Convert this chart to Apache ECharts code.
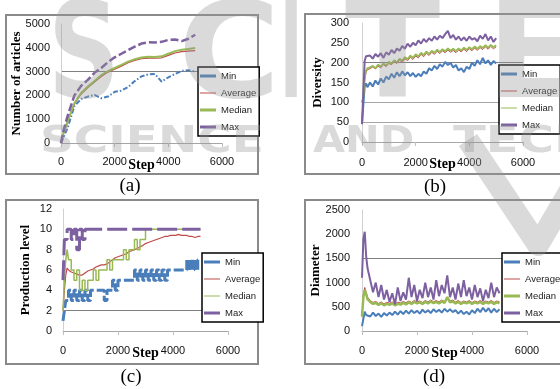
<!DOCTYPE html>
<html>
<head>
<meta charset="utf-8">
<script src="https://cdn.jsdelivr.net/npm/echarts@6.0.0/dist/echarts.min.js"></script>
<style>
html, body { margin: 0; padding: 0; background: #fff; }
#chart { width: 560px; height: 389px; }
</style>
</head>
<body>
<div id="chart"></div>
<script>
// (a) number of articles
var stepsA = [0, 100, 250, 500, 750, 1000, 1250, 1500, 1750, 2000, 2250, 2500, 2750, 3000, 3250, 3500, 3750, 4000, 4250, 4500, 4750, 5000];
var articlesMin = [0, 250, 650, 1550, 1850, 1950, 2020, 1880, 1950, 2150, 2200, 2350, 2600, 2800, 2880, 2900, 2580, 2760, 2900, 3030, 3060, 3000];
var articlesAvg = [0, 430, 900, 1640, 2060, 2330, 2560, 2790, 2980, 3100, 3230, 3370, 3470, 3540, 3570, 3560, 3580, 3680, 3780, 3840, 3860, 3880];
var articlesMed = [0, 450, 920, 1680, 2100, 2370, 2600, 2850, 3020, 3150, 3280, 3420, 3520, 3590, 3620, 3610, 3640, 3750, 3860, 3920, 3950, 3990];
var articlesMax = [0, 550, 1150, 2000, 2400, 2650, 2950, 3150, 3400, 3600, 3750, 3900, 4050, 4180, 4230, 4220, 4250, 4330, 4350, 4280, 4380, 4550];

// shared step grid for (b), (c), (d)
var steps = [0, 50, 100, 150, 200,
  300, 400, 500, 600, 700, 800, 900, 1000,
  1100, 1200, 1300, 1400, 1500, 1600, 1700, 1800, 1900, 2000,
  2100, 2200, 2300, 2400, 2500, 2600, 2700, 2800, 2900, 3000,
  3100, 3200, 3300, 3400, 3500, 3600, 3700, 3800, 3900, 4000,
  4100, 4200, 4300, 4400, 4500, 4600, 4700, 4800, 4900, 5000];

// (b) diversity
var diversityMin = [45, 95, 140, 148, 138,
  150, 140, 155, 145, 160, 150, 165, 158,
  172, 162, 176, 166, 178, 168, 176, 166, 174, 164,
  172, 166, 178, 172, 186, 180, 192, 184, 196, 190,
  202, 194, 200, 188, 194, 180, 186, 176, 190, 184,
  200, 192, 206, 196, 212, 198, 206, 194, 204, 198];
var diversityAvg = [100, 112, 155, 176, 182,
  185, 189, 184, 191, 187, 195, 190, 198,
  195, 202, 198, 206, 201, 210, 205, 214, 208, 217,
  212, 221, 215, 224, 218, 226, 221, 229, 223, 230,
  225, 232, 226, 231, 225, 232, 227, 234, 228, 235,
  230, 237, 231, 238, 233, 240, 234, 241, 235, 240];
var diversityMed = [100, 115, 160, 180, 186,
  188, 192, 186, 195, 190, 198, 193, 202,
  198, 206, 201, 210, 205, 214, 209, 218, 212, 221,
  216, 225, 219, 228, 222, 230, 225, 233, 227, 234,
  229, 236, 230, 235, 229, 236, 231, 238, 232, 239,
  234, 241, 235, 242, 237, 244, 238, 245, 239, 244];
var diversityMax = [45, 130, 205, 216, 212,
  218, 210, 222, 215, 224, 212, 226, 220,
  232, 224, 236, 230, 242, 235, 248, 240, 250, 244,
  256, 248, 260, 252, 262, 255, 266, 258, 268, 262,
  272, 280, 262, 270, 258, 266, 256, 264, 255, 266,
  258, 262, 254, 268, 260, 272, 256, 266, 252, 262];

// (c) production level
var productionMin = [1, 2, 3, 3, 4,
  3, 4, 3, 4, 3, 4, 3, 4,
  4, 4, 4, 4, 3, 4, 4, 5, 4, 5,
  5, 5, 5, 5, 5, 6, 5, 6, 5, 6,
  5, 6, 5, 6, 5, 6, 5, 6, 6, 6,
  6, 6, 6, 6, 7, 6, 7, 6, 7, 7];
var productionAvg = [2, 4, 5.5, 6.2, 6.0,
  5.8, 5.7, 5.6, 5.5, 5.5, 5.7, 5.9, 6.0,
  6.1, 6.3, 6.4, 6.5, 6.5, 6.6, 6.8, 7.0, 7.2, 7.3,
  7.4, 7.5, 7.6, 7.8, 7.9, 8.0, 8.1, 8.3, 8.4, 8.6,
  8.7, 8.8, 8.9, 9.0, 9.1, 9.2, 9.3, 9.3, 9.4, 9.4,
  9.4, 9.5, 9.4, 9.4, 9.4, 9.3, 9.3, 9.2, 9.3, 9.3];
var productionMed = [2, 5, 7, 8, 7,
  6, 5, 6, 4, 5, 4, 5, 5,
  6, 5, 6, 6, 6, 7, 6, 7, 7, 7,
  7, 8, 7, 8, 8, 9, 8, 9, 9, 10,
  10, 10, 10, 10, 10, 10, 10, 10, 10, 10,
  10, 10, 10, 10, 10, 10, 10, 10, 10, 10];
var productionMax = [5, 9, 9, 10, 10,
  9, 10, 8, 10, 9, 10, 10, 10,
  10, 10, 10, 10, 10, 10, 10, 10, 10, 10,
  10, 10, 10, 10, 10, 10, 10, 10, 10, 10,
  10, 10, 10, 10, 10, 10, 10, 10, 10, 10,
  10, 10, 10, 10, 10, 10, 10, 10, 10, 10];

// (d) diameter
var diameterMin = [100, 250, 400, 330, 350,
  300, 380, 310, 360, 290, 370, 320, 380,
  330, 400, 340, 410, 350, 420, 360, 430, 370, 420,
  360, 440, 380, 430, 370, 450, 390, 440, 380, 460,
  400, 450, 390, 430, 360, 420, 350, 400, 340, 430,
  370, 460, 390, 480, 400, 470, 380, 460, 390, 450];
var diameterAvg = [300, 750, 900, 800, 700,
  630, 590, 610, 570, 600, 560, 590, 575,
  600, 565, 595, 580, 610, 585, 620, 590, 630, 600,
  620, 590, 630, 600, 640, 605, 630, 600, 640, 610,
  680, 620, 640, 600, 630, 590, 620, 600, 630, 590,
  620, 600, 630, 590, 620, 600, 630, 590, 620, 600];
var diameterMed = [300, 700, 850, 760, 660,
  600, 560, 580, 540, 570, 530, 560, 540,
  570, 530, 560, 545, 580, 550, 590, 560, 600, 570,
  590, 560, 600, 570, 610, 575, 600, 570, 610, 580,
  700, 590, 610, 570, 600, 560, 590, 570, 600, 560,
  590, 570, 600, 560, 590, 570, 600, 560, 590, 570];
var diameterMax = [1100, 1900, 2050, 1550, 1300,
  1050, 800, 1000, 700, 950, 650, 850, 600,
  780, 550, 900, 620, 800, 650, 1100, 700, 950, 620,
  850, 680, 1000, 700, 900, 650, 1050, 720, 950, 780,
  1150, 700, 900, 650, 980, 700, 1050, 720, 900, 650,
  950, 700, 880, 620, 850, 680, 1000, 700, 900, 780];

var legendNames = ["Min", "Average", "Median", "Max"];
var captions = ["(a)", "(b)", "(c)", "(d)"];

var C_MIN = "#4a7ebb", C_AVG = "#be4b48", C_MED = "#98b954", C_MAX = "#7d60a0";
var T = "rgba(0,0,0,0)";
// zero-width suffix keeps each panel's legend tied to its own series
var tags = ["", "\u200b", "\u200b\u200b", "\u200b\u200b\u200b"];
var THICK = "path://M0,0L16,0L16,3L0,3Z";
var THIN = "path://M0,0L16,0L16,1L0,1Z";

var myChart = echarts.init(document.getElementById("chart"));

function line(name, gi, xs, ys, color, width, dash, step) {
  return {
    name: name + tags[gi],
    type: "line",
    xAxisIndex: gi,
    yAxisIndex: gi,
    data: xs.map(function (s, i) { return [s, ys[i]]; }),
    symbol: "none",
    step: step || false,
    silent: true,
    lineStyle: { color: color, width: width, type: dash || "solid" },
    itemStyle: { color: color }
  };
}

function xAx(gi, margin) {
  return {
    type: "value", gridIndex: gi, min: 0, max: 6000, interval: 2000,
    name: "Step", nameLocation: "middle", nameGap: 15, nameMoveOverlap: false,
    nameTextStyle: { fontFamily: "Liberation Serif", fontWeight: "bold", fontSize: 14, color: "#000" },
    axisLine: { onZero: false, lineStyle: { color: "#a6a6a6", width: 1 } },
    axisTick: { show: true, length: 4, lineStyle: { color: "#bfbfbf" } },
    axisLabel: { margin: margin, fontFamily: "Liberation Sans", fontSize: 11, color: "#111",
      formatter: function (v) { return String(v); } },
    splitLine: { show: false }
  };
}

function yAx(gi, max, interval, name, gap, margin, split) {
  return {
    type: "value", gridIndex: gi, min: 0, max: max, interval: interval,
    name: name, nameLocation: "middle", nameGap: gap, nameRotate: 90, nameMoveOverlap: false,
    nameTextStyle: { fontFamily: "Liberation Serif", fontWeight: "bold", fontSize: 13, color: "#000" },
    axisLine: { show: true, lineStyle: { color: "#d0d0d0", width: 1 } },
    axisTick: { show: false },
    axisLabel: { margin: margin, fontFamily: "Liberation Sans", fontSize: 11, color: "#111",
      formatter: function (v) { return String(v); } },
    splitLine: { show: true, lineStyle: { color: split, width: 1 } }
  };
}

function legendAt(gi, left, top, icons) {
  return {
    left: left, top: top, orient: "vertical",
    itemWidth: 16, itemHeight: 3, itemGap: 5,
    padding: [3, 3, 3, 2],
    borderColor: "#000", borderWidth: 1.5, backgroundColor: "#fff",
    selectedMode: false,
    textStyle: { fontFamily: "Liberation Sans", fontSize: 9.5, lineHeight: 12, color: "#222" },
    data: legendNames.map(function (n, i) { return { name: n + tags[gi], icon: icons[i] }; })
  };
}

var wm = "rgba(150,150,150,0.35)";
function wmText(txt, x, y, size, sx) {
  return {
    type: "text", x: x, y: y, scaleX: sx, z: 100, silent: true,
    style: { text: txt, fill: wm, font: "bold " + size + "px 'DejaVu Sans'", textVerticalAlign: "middle" }
  };
}
function caption(txt, x, y) {
  return {
    type: "text", x: x, y: y,
    style: { text: txt, fill: "#000", font: "19px 'Liberation Serif'", textAlign: "center", textVerticalAlign: "middle" }
  };
}
function panel(x, y, w, h) {
  return { type: "rect", shape: { x: x, y: y, width: w, height: h }, style: { fill: "none", stroke: "#8a8a8a", lineWidth: 2 } };
}

var option = {
  animation: false,
  backgroundColor: "#fff",
  grid: [
    { left: 61, top: 24, width: 161, height: 119, outerBoundsMode: "none" },
    { left: 362, top: 23, width: 161, height: 119, outerBoundsMode: "none" },
    { left: 63, top: 209, width: 165, height: 122, outerBoundsMode: "none" },
    { left: 362, top: 210, width: 165, height: 121, outerBoundsMode: "none" }
  ],
  xAxis: [xAx(0, 13), xAx(1, 15), xAx(2, 14), xAx(3, 14)],
  yAxis: [
    yAx(0, 5000, 1000, "Number of articles", 38, 11, [T, T, T, "#7f7f7f", T, T]),
    yAx(1, 300, 50, "Diversity", 38, 13, [T, "#a6a6a6", "#a6a6a6", T, "#7f7f7f", T, T]),
    yAx(2, 12, 2, "Production level", 31, 11, [T, "#7f7f7f", T, T, T, T, T]),
    yAx(3, 2500, 500, "Diameter", 40, 12, [T, T, T, "#7f7f7f", T, T])
  ],
  legend: [
    legendAt(0, 198, 67, [THICK, THIN, THICK, THICK]),
    legendAt(1, 499, 65, [THICK, THIN, THIN, THICK]),
    legendAt(2, 202, 253, [THICK, THIN, THIN, THICK]),
    legendAt(3, 502, 253, [THICK, THIN, THICK, THICK])
  ],
  series: [
    line("Min", 0, stepsA, articlesMin, C_MIN, 2, [5, 2, 1.5, 2]),
    line("Average", 0, stepsA, articlesAvg, C_AVG, 1.2),
    line("Median", 0, stepsA, articlesMed, C_MED, 2),
    line("Max", 0, stepsA, articlesMax, C_MAX, 2.5, [8, 3]),

    line("Min", 1, steps, diversityMin, C_MIN, 2),
    line("Average", 1, steps, diversityAvg, C_AVG, 1),
    line("Median", 1, steps, diversityMed, C_MED, 1.8),
    line("Max", 1, steps, diversityMax, C_MAX, 2),

    line("Min", 2, steps, productionMin, C_MIN, 3, [10, 3], "end"),
    line("Average", 2, steps, productionAvg, C_AVG, 1.2),
    line("Median", 2, steps, productionMed, C_MED, 1.5, null, "end"),
    line("Max", 2, steps, productionMax, C_MAX, 3, [20, 5], "end"),

    line("Min", 3, steps, diameterMin, C_MIN, 2),
    line("Average", 3, steps, diameterAvg, C_AVG, 1),
    line("Median", 3, steps, diameterMed, C_MED, 2.5),
    line("Max", 3, steps, diameterMax, C_MAX, 2)
  ],
  graphic: [
    panel(6, 15, 252, 159),
    panel(305, 14, 262, 160),
    panel(6, 200, 252, 164),
    panel(305, 200, 262, 164),
    caption(captions[0], 130, 186),
    caption(captions[1], 435, 187),
    caption(captions[2], 131, 377),
    caption(captions[3], 434, 377),
    // SCITEPRESS watermark
    wmText("S", 48, 62, 133, 0.75),
    wmText("C", 178, 62, 133, 1.05),
    wmText("I", 280, 62, 133, 0.45),
    wmText("T", 345, 62, 133, 1.05),
    wmText("E", 487, 62, 133, 1.0),
    wmText("SCIENCE", 40, 142, 37, 1.27),
    wmText("AND", 313, 142, 37, 1.12),
    wmText("TECH", 453, 142, 37, 1.3),
    {
      type: "polyline", z: 100, silent: true,
      shape: { points: [[468, 140], [538, 245], [585, 165]] },
      style: { stroke: wm, lineWidth: 22, fill: "none", lineJoin: "round" }
    }
  ]
};
myChart.setOption(option);
window.addEventListener("resize", function () { myChart.resize(); });
</script>
</body>
</html>
